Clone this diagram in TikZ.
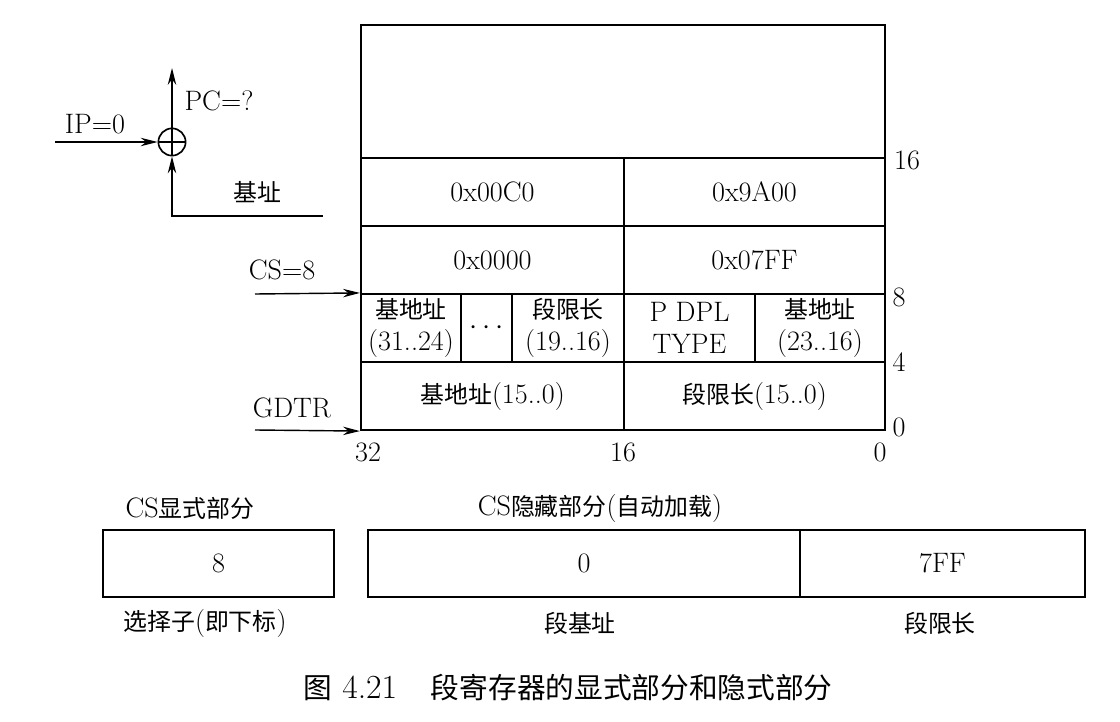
\documentclass[tikz,border=0pt]{standalone}
\usepackage{fontspec}
\newfontfamily\cjk{Noto Sans CJK SC}[Scale=0.85]
\usetikzlibrary{arrows.meta,positioning}
\tikzset{
  cell/.style={draw, line width=1.5pt, inner sep=0pt, align=center, minimum height=1.7cm},
  feed/.style={line width=1pt, -{Stealth[length=12pt,width=6pt]}},
  lbl/.style={inner sep=0pt}
}
\begin{document}
\begin{tikzpicture}[x=0.025cm,y=-0.025cm]
  \fontsize{20}{23}\selectfont
  \useasboundingbox (0,0) rectangle (1120,722);
  % descriptor table
  \node[cell, minimum width=13.1cm, minimum height=3.325cm] (top) at (623,91.5) {};
  \node[cell, minimum width=6.575cm] (hiA) at (492.5,192) {0x00C0};
  \node[cell, minimum width=6.525cm] (hiB) at (754.5,192) {0x9A00};
  \node[cell, minimum width=6.575cm] (loA) at (492.5,260) {0x0000};
  \node[cell, minimum width=6.525cm] (loB) at (754.5,260) {0x07FF};
  \node[cell, minimum width=2.5cm] (baseHi) at (411,328) {{\cjk 基地址}\\(31..24)};
  \node[cell, minimum width=1.275cm] (dots) at (486.5,328) {$\cdots$};
  \node[cell, minimum width=2.8cm] (limHi) at (568,328) {{\cjk 段限长}\\(19..16)};
  \node[cell, minimum width=3.275cm] (attr) at (689.5,328) {P DPL\\TYPE};
  \node[cell, minimum width=3.25cm] (baseMid) at (820,328) {{\cjk 基地址}\\(23..16)};
  \node[cell, minimum width=6.575cm] (baseLo) at (492.5,396) {{\cjk 基地址}(15..0)};
  \node[cell, minimum width=6.525cm] (limLo) at (754.5,396) {{\cjk 段限长}(15..0)};
  % bit scale
  \node[lbl] (b16) at (907,160) {16};
  \node[lbl] (b8) at (899,297) {8};
  \node[lbl] (b4) at (899,362) {4};
  \node[lbl] (b0) at (899,427) {0};
  \node[lbl] (c32) at (368,452) {32};
  \node[lbl] (c16) at (623,452) {16};
  \node[lbl] (c0) at (880,452) {0};
  % adder
  \node[draw, circle, line width=1.2pt, minimum size=0.68cm, inner sep=0pt] (adder) at (172,142) {};
  \draw[line width=1pt] (adder.north) -- (adder.south) (adder.west) -- (adder.east);
  \coordinate (ipin) at (55,142);
  \coordinate (pcout) at (172,68);
  \coordinate (basein) at (323,216);
  \draw[feed] (ipin) -- (adder.west);
  \draw[feed] (adder.north) -- (pcout);
  \draw[feed] (basein) -| (adder.south);
  \node[lbl] (iplbl) at (95,124) {IP=0};
  \node[lbl] (pclbl) at (219,101) {PC=?};
  \node[lbl] (baselbl) at (257,192) {\cjk 基址};
  % selectors
  \coordinate (csin) at (255,294);
  \coordinate (gdtrin) at (255,430);
  \draw[feed] (csin) -- (baseHi.north west);
  \draw[feed] (gdtrin) -- (baseLo.south west);
  \node[lbl] (cslbl) at (282,270) {CS=8};
  \node[lbl] (gdtrlbl) at (292,408) {GDTR};
  % segment register
  \node[cell, minimum width=5.775cm, minimum height=1.675cm] (sel) at (218.5,563.5) {8};
  \node[cell, minimum width=10.8cm, minimum height=1.675cm] (segbase) at (584,563.5) {0};
  \node[cell, minimum width=7.125cm, minimum height=1.675cm] (seglim) at (942.5,563.5) {7FF};
  \node[lbl] (vislbl) at (190,508) {CS{\cjk 显式部分}};
  \node[lbl] (hidlbl) at (600,508) {CS{\cjk 隐藏部分}({\cjk 自动加载})};
  \node[lbl] (sellbl) at (205,623) {{\cjk 选择子}({\cjk 即下标})};
  \node[lbl] (segbaselbl) at (580,623) {\cjk 段基址};
  \node[lbl] (seglimlbl) at (940,623) {\cjk 段限长};
  % caption
  \node[lbl] (cap) at (568,688) {\fontsize{24}{28}\selectfont{\cjk 图} 4.21\quad{\cjk 段寄存器的显式部分和隐式部分}};
\end{tikzpicture}
\end{document}
